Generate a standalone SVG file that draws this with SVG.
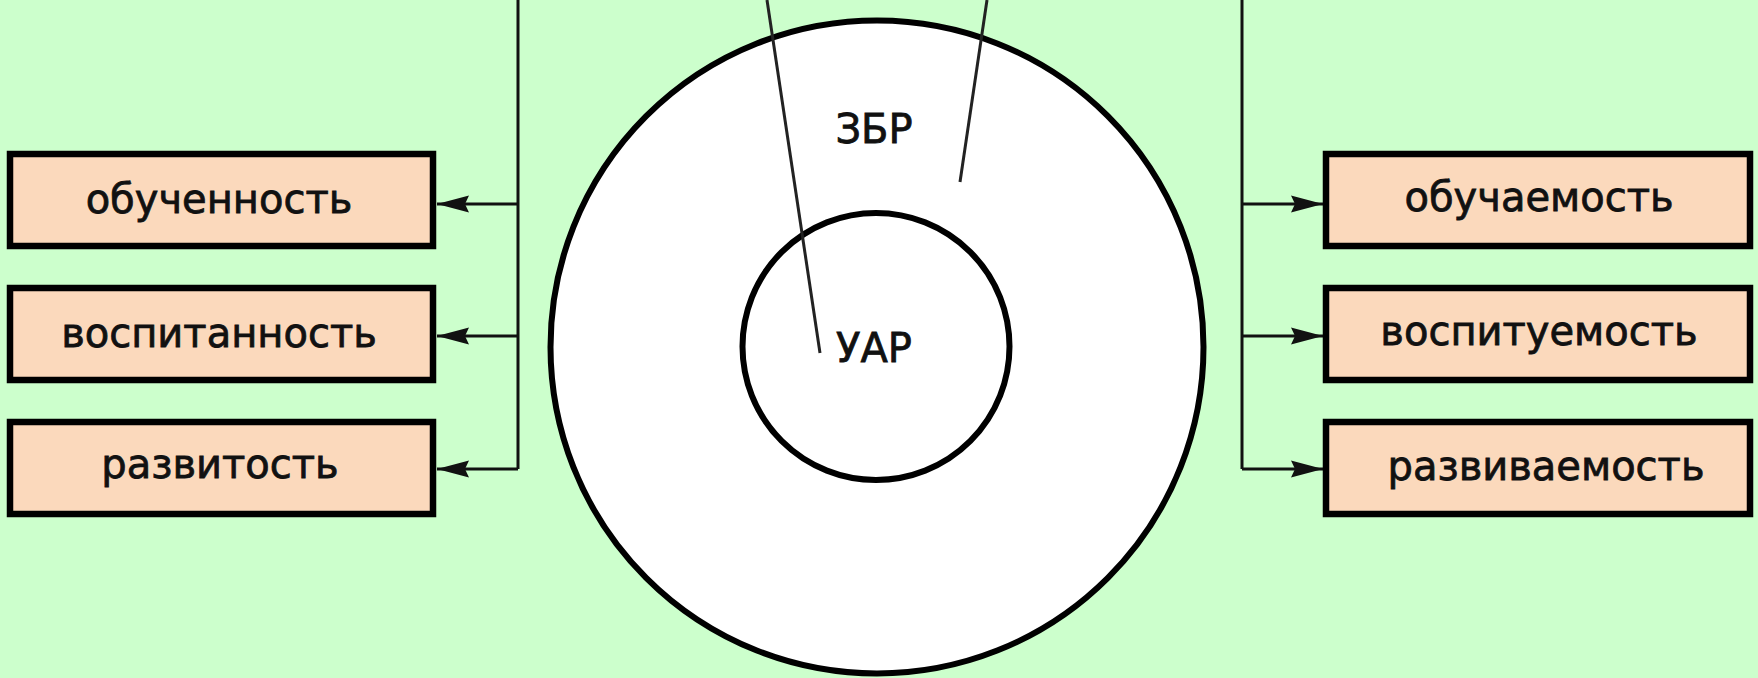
<svg xmlns="http://www.w3.org/2000/svg" width="1758" height="678" viewBox="0 0 1758 678">
<style>
.box{fill:#fbd9bc;stroke:#000;stroke-width:6.5}
.lbl{font-family:"DejaVu Sans",sans-serif;font-size:40px;fill:#111;stroke:#111;stroke-width:0.8;text-anchor:middle}
.con{fill:none;stroke:#111;stroke-width:3}
.ring{fill:#fff;stroke:#000;stroke-width:6}
.ray{fill:none;stroke:#222;stroke-width:3}
</style>
<defs>
<marker id="ah" markerUnits="userSpaceOnUse" markerWidth="40" markerHeight="24" viewBox="-36 -12 40 24" refX="0" refY="0" orient="auto">
<path d="M0,0 L-32,-8.5 L-28,0 L-32,8.5 Z" fill="#111"/>
</marker>
</defs>
<rect width="1758" height="678" fill="#ccffcc"/>
<g id="zone">
<circle class="ring" cx="877" cy="347" r="326.5"/>
<circle class="ring" cx="876" cy="346.5" r="133.5"/>
<line class="ray" x1="767" y1="0" x2="820" y2="353"/>
<line class="ray" x1="987" y1="0" x2="960" y2="182"/>
<text class="lbl" x="874" y="143">ЗБР</text>
<text class="lbl" x="874" y="362">УАР</text>
</g>
<g id="connectors">
<path class="con" d="M518,0 V469"/>
<path class="con" d="M518,204 H437" marker-end="url(#ah)"/>
<path class="con" d="M518,336 H437" marker-end="url(#ah)"/>
<path class="con" d="M518,469 H437" marker-end="url(#ah)"/>
<path class="con" d="M1242,0 V469"/>
<path class="con" d="M1242,204 H1323" marker-end="url(#ah)"/>
<path class="con" d="M1242,336 H1323" marker-end="url(#ah)"/>
<path class="con" d="M1242,469 H1323" marker-end="url(#ah)"/>
</g>
<g id="n-obuchennost"><rect class="box" x="10" y="154" width="423" height="92"/><text class="lbl" x="219" y="213">обученность</text></g>
<g id="n-vospitannost"><rect class="box" x="10" y="288" width="423" height="92"/><text class="lbl" x="219" y="347">воспитанность</text></g>
<g id="n-razvitost"><rect class="box" x="10" y="422" width="423" height="92"/><text class="lbl" x="220" y="478">развитость</text></g>
<g id="n-obuchaemost"><rect class="box" x="1326" y="154" width="424" height="92"/><text class="lbl" x="1539" y="211">обучаемость</text></g>
<g id="n-vospituemost"><rect class="box" x="1326" y="288" width="424" height="92"/><text class="lbl" x="1539" y="345">воспитуемость</text></g>
<g id="n-razvivaemost"><rect class="box" x="1326" y="422" width="424" height="92"/><text class="lbl" x="1546" y="480">развиваемость</text></g>
</svg>
